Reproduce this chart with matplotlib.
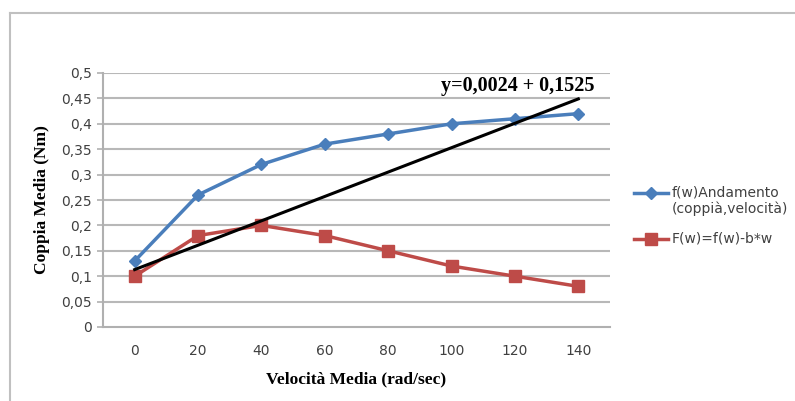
import matplotlib.pyplot as plt
from matplotlib.lines import Line2D
from matplotlib.ticker import FuncFormatter

# velocita' media (rad/sec) e coppia media (Nm)
velocita = [0, 20, 40, 60, 80, 100, 120, 140]
andamento = [0.13, 0.26, 0.32, 0.36, 0.38, 0.40, 0.41, 0.42]
corretta = [0.10, 0.18, 0.20, 0.18, 0.15, 0.12, 0.10, 0.08]
pendenza = 0.0024
intercetta = 0.113
y_ticks = [0, 0.05, 0.1, 0.15, 0.2, 0.25, 0.3, 0.35, 0.4, 0.45, 0.5]
etichette = ["f(w)Andamento\n(coppià,velocità)", "F(w)=f(w)-b*w"]

blu = "#4a7ebb"
rosso = "#be4b48"
grigio = "#404040"

fig = plt.figure(figsize=(7.95, 4.01), dpi=100)
ax = fig.add_axes([103 / 795, 1 - 327 / 401, 507 / 795, 254 / 401])

# cornice del grafico
fig.add_artist(Line2D([10 / 795, 10 / 795], [0, 1 - 13 / 401], color="#c0c0c0", lw=1.5))
fig.add_artist(Line2D([10 / 795, 1], [1 - 13 / 401, 1 - 13 / 401], color="#c0c0c0", lw=1.5))

idx = list(range(len(velocita)))
for t in y_ticks[1:]:
    ax.axhline(t, color="#b8b8b8", lw=1.5, zorder=0)

stili = [dict(color=blu, lw=2.5, marker="D", markersize=6),
         dict(color=rosso, lw=2.5, marker="s", markersize=8)]
ax.plot(idx, andamento, **stili[0])
ax.plot(idx, corretta, **stili[1])

# retta di tendenza
trend = [pendenza * v + intercetta for v in (velocita[0], velocita[-1])]
ax.plot([idx[0], idx[-1]], trend, color="black", lw=2.2, zorder=4)
ax.text(6.05, 0.474, "y=0,0024 + 0,1525", fontsize=14.5,
        fontweight="bold", family="Liberation Serif", ha="center", va="center")

ax.set_xlim(-0.5, 7.5)
ax.set_ylim(0, 0.5)
ax.set_xticks(idx)
ax.set_xticklabels([str(v) for v in velocita])
ax.set_yticks(y_ticks)
ax.yaxis.set_major_formatter(FuncFormatter(lambda v, p: ("%g" % round(v, 2)).replace(".", ",")))
ax.tick_params(axis="x", length=0, pad=12, labelsize=10, labelcolor=grigio)
ax.tick_params(axis="y", length=4, width=1.2, color="#b0b0b0", pad=4, labelsize=10, labelcolor=grigio)
for s in ["top", "right"]:
    ax.spines[s].set_visible(False)
for s in ["left", "bottom"]:
    ax.spines[s].set_color("#b0b0b0")
    ax.spines[s].set_linewidth(1.5)

ax.set_xlabel("Velocità Media (rad/sec)", fontsize=12.5, fontweight="bold",
              family="Liberation Serif", labelpad=10)
ax.set_ylabel("Coppia Media (Nm)", fontsize=12.5, fontweight="bold",
              family="Liberation Serif", labelpad=8)

# legenda a destra, simbolo allineato con la prima riga
for ypix, stile, testo in zip([193, 239], stili, etichette):
    yf = 1 - ypix / 401
    fig.add_artist(Line2D([634 / 795, 651 / 795, 668 / 795], [yf, yf, yf],
                          markevery=[1], **stile))
    fig.text(672 / 795, yf + 8 / 401, testo, fontsize=10, color=grigio, va="top",
             ha="left", linespacing=1.25)

fig.savefig("out.png", dpi=100)
